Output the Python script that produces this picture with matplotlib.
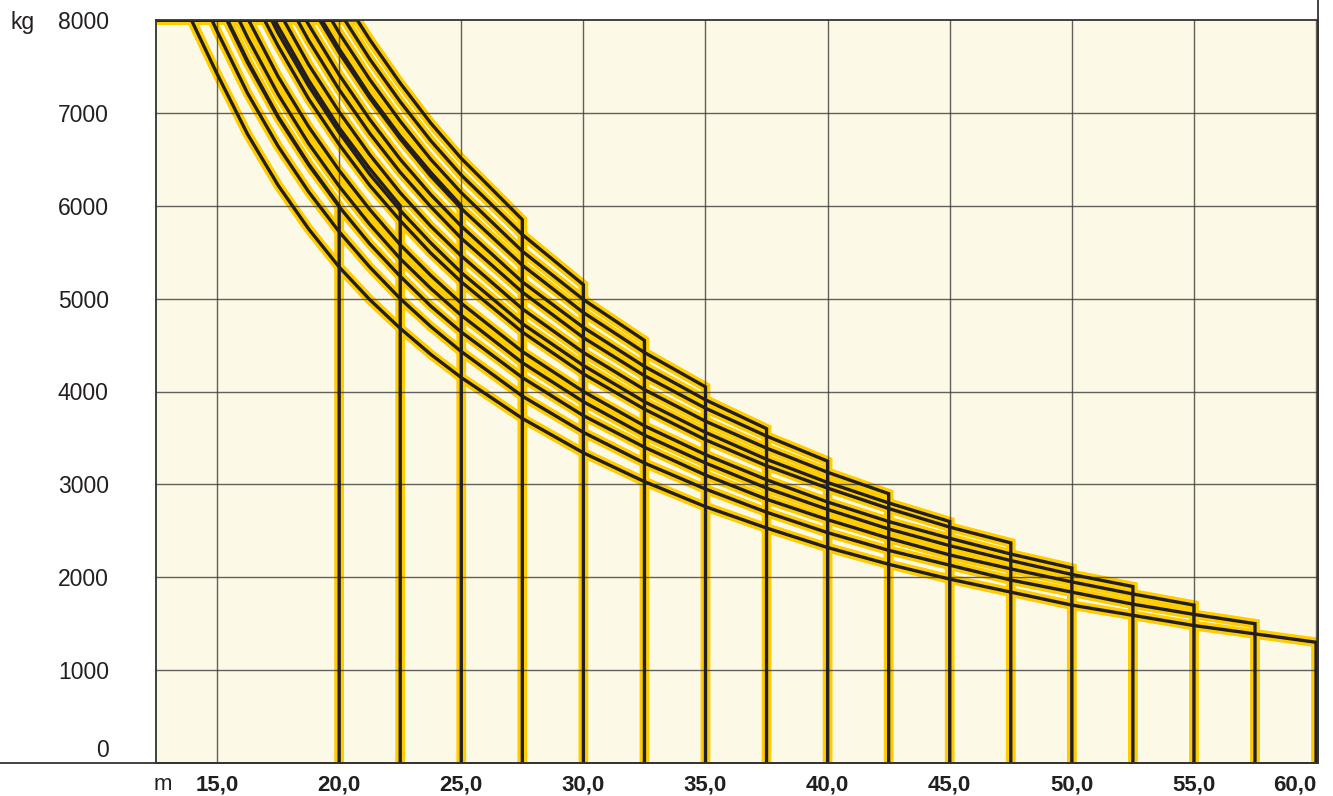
"""
Load chart of a tower crane: hook load (kg) against radius (m),
one curve per jib length, each ending with a drop at the jib tip.
"""
import matplotlib

matplotlib.use("Agg")
import matplotlib.pyplot as plt
from matplotlib.lines import Line2D
from matplotlib.transforms import ScaledTranslation

plt.rcParams["font.family"] = ["Liberation Sans", "DejaVu Sans"]

# ── Data ─────────────────────────────────────────────────────────
RADII = [13.75, 15.0, 16.25, 17.5, 18.75, 20.0, 21.25, 22.5, 23.75, 25.0,
         27.5, 30.0, 32.5, 35.0, 37.5, 40.0, 42.5, 45.0, 47.5, 50.0,
         52.5, 55.0, 57.5, 60.0]

JIB_LENGTHS = [20.0, 22.5, 25.0, 27.5, 30.0, 32.5, 35.0, 37.5, 40.0,
               42.5, 45.0, 47.5, 50.0, 52.5, 55.0, 57.5, 60.0]

# radius (m) where each curve leaves the 8000 kg plateau
PLATEAU_END = [15.43, 17.36, 19.29, 20.74, 20.23, 19.69, 19.20, 18.64, 18.29,
               17.73, 17.23, 16.94, 16.29, 15.90, 15.40, 14.79, 13.95]

# loads (kg) at RADII, up to the jib length
LOAD_J20 = [8000, 8000, 7560, 6960, 6450, 6000]
LOAD_J22 = [8000, 8000, 8000, 7930, 7350, 6840, 6400, 6000]
LOAD_J25 = [8000, 8000, 8000, 8000, 8000, 7690, 7190, 6750, 6360, 6000]
LOAD_J27 = [8000, 8000, 8000, 8000, 8000, 8000, 7790, 7320, 6890, 6510, 5850]
LOAD_J30 = [8000, 8000, 8000, 8000, 8000, 8000, 7580, 7120, 6700, 6330, 5690,
            5150]
LOAD_J32 = [8000, 8000, 8000, 8000, 8000, 7860, 7360, 6910, 6500, 6140, 5510,
            4990, 4550]
LOAD_J35 = [8000, 8000, 8000, 8000, 8000, 7650, 7160, 6720, 6320, 5970, 5360,
            4850, 4420, 4050]
LOAD_J37 = [8000, 8000, 8000, 8000, 7950, 7410, 6930, 6500, 6120, 5780, 5180,
            4690, 4270, 3910, 3600]
LOAD_J40 = [8000, 8000, 8000, 8000, 7780, 7250, 6780, 6360, 5990, 5650, 5070,
            4580, 4170, 3820, 3520, 3250]
LOAD_J42 = [8000, 8000, 8000, 8000, 7520, 7010, 6550, 6140, 5780, 5460, 4890,
            4420, 4020, 3680, 3390, 3130, 2900]
LOAD_J45 = [8000, 8000, 8000, 7860, 7290, 6790, 6340, 5950, 5600, 5280, 4730,
            4280, 3890, 3560, 3270, 3020, 2800, 2600]
LOAD_J47 = [8000, 8000, 8000, 7720, 7150, 6660, 6220, 5840, 5490, 5180, 4640,
            4190, 3810, 3480, 3200, 2960, 2740, 2540, 2370]
LOAD_J50 = [8000, 8000, 8000, 7390, 6850, 6380, 5960, 5580, 5250, 4950, 4430,
            4000, 3630, 3320, 3050, 2810, 2600, 2420, 2250, 2100]
LOAD_J52 = [8000, 8000, 7810, 7200, 6670, 6210, 5800, 5430, 5110, 4820, 4310,
            3890, 3530, 3230, 2960, 2730, 2520, 2340, 2180, 2030, 1900]
LOAD_J55 = [8000, 8000, 7540, 6950, 6440, 5990, 5590, 5240, 4920, 4640, 4150,
            3740, 3400, 3100, 2840, 2620, 2420, 2240, 2090, 1950, 1820, 1700]
LOAD_J57 = [8000, 7880, 7210, 6640, 6150, 5720, 5340, 5000, 4700, 4430, 3950,
            3560, 3230, 2950, 2700, 2480, 2290, 2130, 1970, 1840, 1710, 1600,
            1500]
LOAD_J60 = [8000, 7420, 6770, 6220, 5750, 5340, 4990, 4680, 4400, 4150, 3710,
            3340, 3030, 2760, 2530, 2320, 2140, 1980, 1840, 1700, 1590, 1480,
            1390, 1300]

LOAD_CURVES = [LOAD_J20, LOAD_J22, LOAD_J25, LOAD_J27, LOAD_J30, LOAD_J32,
               LOAD_J35, LOAD_J37, LOAD_J40, LOAD_J42, LOAD_J45, LOAD_J47,
               LOAD_J50, LOAD_J52, LOAD_J55, LOAD_J57, LOAD_J60]

MAX_LOAD = 8000
X_MIN, X_MAX = 12.5, 60.08

Y_TICKS = [0, 1000, 2000, 3000, 4000, 5000, 6000, 7000, 8000]
X_TICKS = [15, 20, 25, 30, 35, 40, 45, 50, 55, 60]
X_TICK_LABELS = ["15,0", "20,0", "25,0", "30,0", "35,0", "40,0", "45,0",
                 "50,0", "55,0", "60,0"]

# ── Style ────────────────────────────────────────────────────────
BG = "#fdf9e7"
YELLOW = "#ffcc00"
INK = "#231f20"
GRID = "#3d3a36"


def curve_path(jib, r0, loads):
    """Plateau at max load, the load curve, then a drop at the jib tip."""
    xs = [X_MIN, r0]
    ys = [MAX_LOAD, MAX_LOAD]
    for r, load in zip(RADII, loads):
        if r > r0:
            xs.append(r)
            ys.append(load)
    xs.append(jib)
    ys.append(0)
    return xs, ys


def main():
    fig = plt.figure(figsize=(13.33, 7.96), dpi=100)
    ax = fig.add_axes([156 / 1333, 1 - 763 / 796, (1318 - 156) / 1333, (763 - 20) / 796])
    ax.set_facecolor(BG)
    ax.set_xlim(X_MIN, X_MAX)
    ax.set_ylim(0, MAX_LOAD)

    for jib, r0, loads in zip(JIB_LENGTHS, PLATEAU_END, LOAD_CURVES):
        xs, ys = curve_path(jib, r0, loads)
        kw = dict(solid_joinstyle="miter", solid_capstyle="butt")
        ax.plot(xs, ys, color="white", lw=8.0, zorder=2, **kw)
        ax.plot(xs, ys, color=YELLOW, lw=7.1, zorder=3, **kw)
        ax.plot(xs, ys, color=INK, lw=2.4, zorder=5, **kw)

    # grid sits on top of the yellow bands but under the black lines
    for x in X_TICKS:
        ax.axvline(x, color=GRID, lw=1.0, alpha=0.8, zorder=4)
    for y in Y_TICKS[1:-1]:
        ax.axhline(y, color=GRID, lw=1.0, alpha=0.8, zorder=4)

    ax.set_xticks(X_TICKS)
    ax.set_xticklabels(X_TICK_LABELS, fontsize=16, fontweight="bold", color=INK)
    ax.set_yticks(Y_TICKS)
    ax.set_yticklabels([str(v) for v in Y_TICKS], fontsize=16.5, color=INK)
    ax.tick_params(axis="both", length=0)
    ax.tick_params(axis="x", pad=8)
    ax.tick_params(axis="y", pad=34)

    # last x label sits inside the frame, "0" sits above the axis line
    xlabels = ax.get_xticklabels()
    xlabels[-1].set_horizontalalignment("right")
    ylabels = ax.get_yticklabels()
    ylabels[0].set_transform(ylabels[0].get_transform()
                             + ScaledTranslation(0, 0.15, fig.dpi_scale_trans))

    for side in ["left", "top", "right", "bottom"]:
        ax.spines[side].set_color("#333333")
        ax.spines[side].set_linewidth(1.3)
        ax.spines[side].set_zorder(6)

    # axis line runs to the left edge, right frame runs to the top edge
    y_axis = 1 - 763 / 796
    x_right = 1318 / 1333
    fig.add_artist(Line2D([0, x_right], [y_axis, y_axis], color="#333333", lw=1.3,
                          transform=fig.transFigure))
    fig.add_artist(Line2D([x_right, x_right], [y_axis, 1.0], color="#333333", lw=1.3,
                          transform=fig.transFigure))

    fig.text(163 / 1333, 1 - 784 / 796, "m", fontsize=16, color=INK,
             ha="center", va="center")
    fig.text(10 / 1333, 1 - 20 / 796, "kg", fontsize=16.5, color=INK,
             ha="left", va="center_baseline")

    fig.savefig("out.png", dpi=100, facecolor="white")


if __name__ == "__main__":
    main()
